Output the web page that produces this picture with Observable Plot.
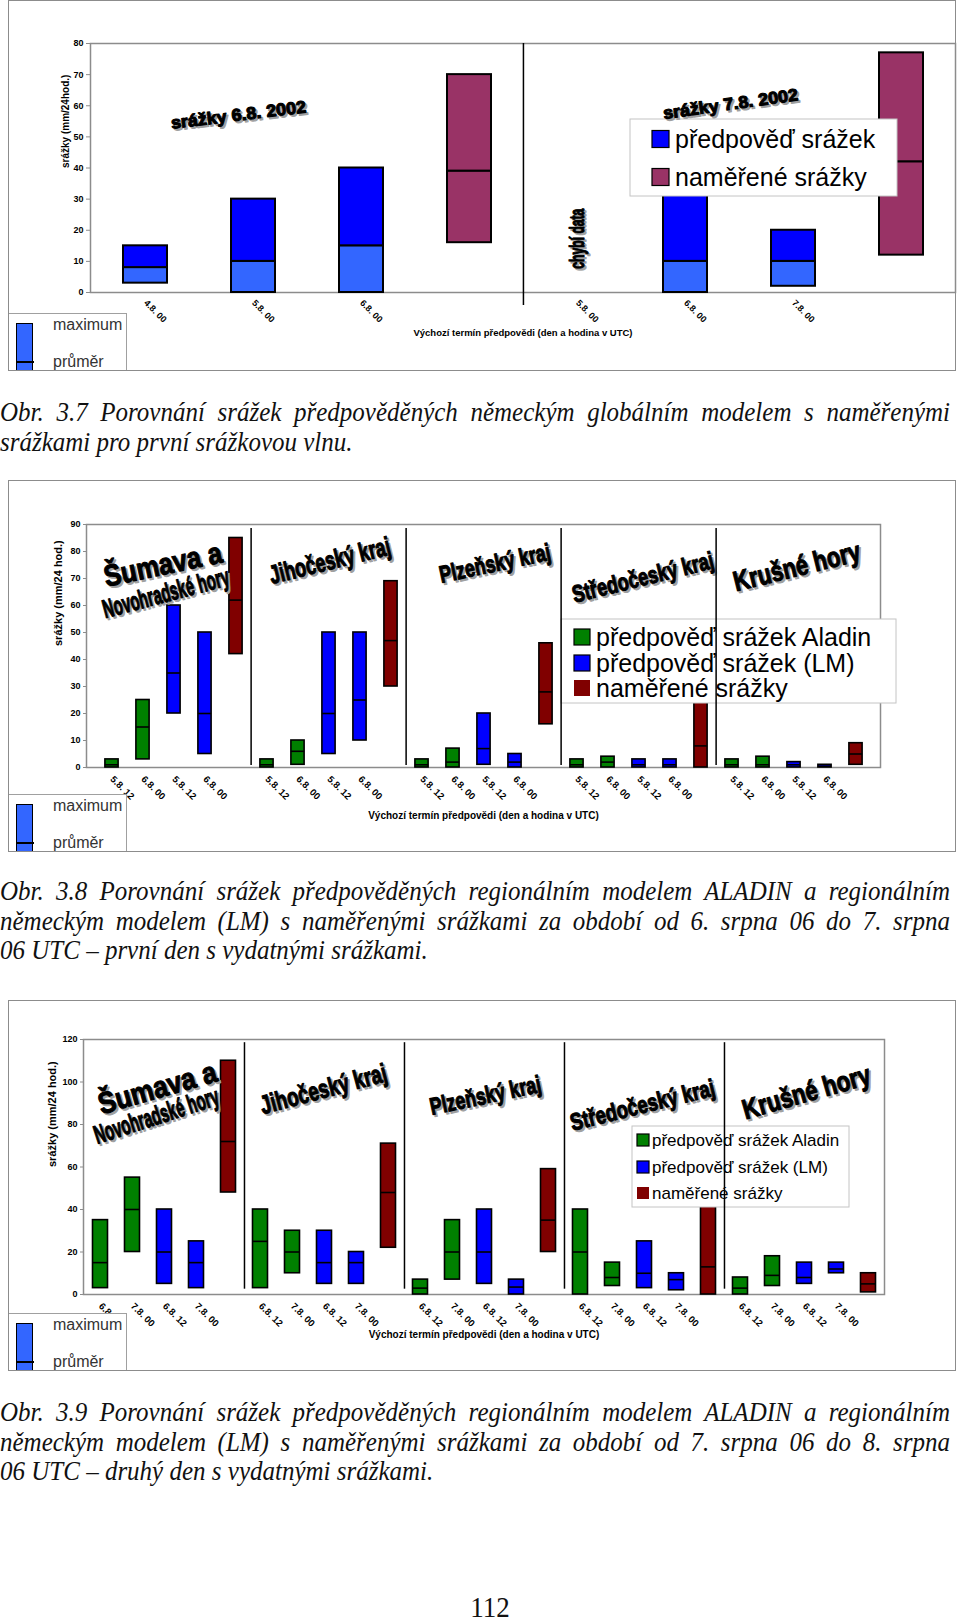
<!DOCTYPE html>
<html>
<head>
<meta charset="utf-8">
<script src="https://cdn.jsdelivr.net/npm/d3@7"></script>
<script src="https://cdn.jsdelivr.net/npm/@observablehq/plot@0.6"></script>
<style>
  html, body { margin: 0; padding: 0; background: #fff; }
  body { width: 960px; height: 1621px; position: relative; overflow: hidden; font-family: "Liberation Sans", Arial, sans-serif; }
  .wrap { position: absolute; left: 8px; width: 948px; background: #fff; }
  .wrap svg { position: absolute; left: 0; top: 0; }
  .border { position: absolute; left: 0; top: 0; right: 0; bottom: 0; border: 1.5px solid #8c8c8c; pointer-events: none; }
  .mm { position: absolute; left: 0; width: 119px; height: 58px; background: #fff; border-top: 1px solid #a0a0a0; border-right: 1px solid #a0a0a0; border-left: 1.5px solid #8c8c8c; overflow: hidden; box-sizing: border-box; }
  .mm .bar { position: absolute; left: 7px; top: 9px; width: 15px; height: 70px; background: #3366FF; border: 1.5px solid #000; }
  .mm .line { position: absolute; left: 7px; top: 47px; width: 18px; height: 2px; background: #000; }
  .mm .t { position: absolute; left: 44px; font-size: 16px; color: #333; line-height: 20px; }
  .cap { position: absolute; left: 0; width: 950px; font-family: "Liberation Serif", "Times New Roman", serif; font-style: italic; font-size: 25px; color: #111; }
  .cap div { height: 29.5px; line-height: 29.5px; white-space: nowrap; text-align: justify; text-align-last: justify; transform: scaleY(1.1); }
  .cap div.last { text-align-last: left; }
  .page { position: absolute; left: 0; width: 980px; top: 1592px; text-align: center; font-family: "Liberation Serif", "Times New Roman", serif; font-size: 27px; color: #111; transform: scaleY(1.08); }
</style>
</head>
<body>
<script>
// ---------------- DATA ----------------
// Figure 3.7 (global model): forecast start terms, minimum / mean (průměr) / maximum in mm/24 h
const c1Labels = ["4.8. 00", "5.8. 00", "6.8. 00", "", "5.8. 00", "6.8. 00", "7.8. 00", ""];
const c1Kind   = ["forecast", "forecast", "forecast", "measured", "missing", "forecast", "forecast", "measured"];
const c1Min    = [3, 0, 0, 16, null, 0, 2, 12];
const c1Mean   = [8, 10, 15, 39, null, 10, 10, 42];
const c1Max    = [15, 30, 40, 70, null, 45, 20, 77];

// Figure 3.8 (6.8. 06 UTC - 7.8. 06 UTC)
const regions   = ["Šumava a Novohradské hory", "Jihočeský kraj", "Plzeňský kraj", "Středočeský kraj", "Krušné hory"];
const bandKinds = ["Aladin", "Aladin", "LM", "LM", "measured"];
const c2Terms   = ["5.8. 12", "6.8. 00", "5.8. 12", "6.8. 00", ""];
const c2Min  = [0, 3, 20, 5, 42,   0, 1, 5, 10, 30,   0, 0, 1, 0, 16,   0, 0, 0, 0, 0,    0, 0, 0, 0, 1];
const c2Mean = [1, 15, 35, 20, 62, 1, 6, 20, 25, 47,  1, 2, 7, 2, 28,   1, 2, 1, 1, 8,    1, 1, 1, 0.5, 5];
const c2Max  = [3, 25, 60, 50, 85, 3, 10, 50, 50, 69, 3, 7, 20, 5, 46,  3, 4, 3, 3, 30,   3, 4, 2, 1, 9];

// Figure 3.9 (7.8. 06 UTC - 8.8. 06 UTC)
const c3Terms = ["6.8. 12", "7.8. 00", "6.8. 12", "7.8. 00", ""];
const c3Min  = [3, 20, 5, 3, 48,    3, 10, 5, 5, 22,   0, 7, 5, 0, 20,   0, 4, 3, 2, 0,     0, 4, 5, 10, 1];
const c3Mean = [15, 40, 20, 15, 72, 25, 20, 15, 15, 48, 3, 20, 20, 3.5, 35, 20, 8, 10, 7, 13, 3, 9, 8, 12, 5];
const c3Max  = [35, 55, 40, 25, 110, 40, 30, 30, 20, 71, 7, 35, 40, 7, 59, 40, 15, 25, 10, 45, 8, 18, 15, 15, 10];

// ---------------- STYLE ----------------
const C1_LOW = "#3366FF", C1_HIGH = "#0000FF", C1_MEAS = "#993366";
const KIND_COLOR = {Aladin: "#008000", LM: "#0000FF", measured: "#800000"};
const FONT = "'Liberation Sans', Arial, sans-serif";
const ART = "'Liberation Sans', Arial, sans-serif";

function plotStyle() {
  return {fontFamily: FONT, background: "transparent", color: "black", overflow: "visible"};
}

function legendMark(items, box) {
  return () => {
    const g = d3.create("svg:g").attr("text-anchor", "start");
    g.append("rect").attr("x", box.x).attr("y", box.y).attr("width", box.w).attr("height", box.h)
      .attr("fill", "white").attr("stroke", "#c4c4c4");
    items.forEach((it, k) => {
      const cy = box.y + box.rows[k];
      g.append("rect").attr("x", box.x + box.sx).attr("y", cy - box.s / 2).attr("width", box.s).attr("height", box.s)
        .attr("fill", it.color).attr("stroke", it.outline ? "black" : "none").attr("stroke-width", 1.2);
      g.append("text").attr("x", box.x + box.tx).attr("y", cy).attr("dy", "0.36em").attr("text-anchor", "start")
        .attr("font-size", box.fs).attr("font-family", FONT).attr("fill", "black").text(it.label);
    });
    return g.node();
  };
}

function artMarks(list) {
  const marks = [];
  for (const a of list) {
    const common = {x: () => a.band, y: () => a.v, text: () => a.text, rotate: a.rot, fontSize: a.size,
      fontWeight: "bold", fontFamily: ART, textAnchor: "middle", strokeWidth: 1.1};
    marks.push(Plot.text([a], {...common, fill: "#a0a0a0", stroke: "#a0a0a0", dx: a.dx + 2, dy: 2}));
    marks.push(Plot.text([a], {...common, fill: "black", stroke: "black", dx: a.dx}));
  }
  return marks;
}

function fitTexts(svg, list) {
  const w = {};
  for (const a of list) w[a.text] = a.width;
  d3.select(svg).selectAll("text").each(function () {
    const t = this.textContent;
    if (w[t]) { this.setAttribute("textLength", w[t]); this.setAttribute("lengthAdjust", "spacingAndGlyphs"); }
  });
}

function addChart(top, height, svg) {
  const wrap = document.createElement("div");
  wrap.className = "wrap";
  wrap.style.top = top + "px";
  wrap.style.height = height + "px";
  wrap.appendChild(svg);
  const mm = document.createElement("div");
  mm.className = "mm";
  mm.style.top = (height - 58) + "px";
  mm.innerHTML = '<div class="bar"></div><div class="line"></div><div class="t" style="top:1px">maximum</div><div class="t" style="top:38px">průměr</div>';
  wrap.appendChild(mm);
  const b = document.createElement("div");
  b.className = "border";
  wrap.appendChild(b);
  document.body.appendChild(wrap);
}

function addCaption(top, lines) {
  const c = document.createElement("div");
  c.className = "cap";
  c.style.top = top + "px";
  lines.forEach((l, i) => {
    const d = document.createElement("div");
    d.textContent = l;
    if (i === lines.length - 1) d.className = "last";
    c.appendChild(d);
  });
  document.body.appendChild(c);
}

const AXIS_TITLE = "Výchozí termín předpovědi (den a hodina v UTC)";

// ---------------- CHART 1 ----------------
{
  const rows = c1Labels.map((l, i) => ({i, kind: c1Kind[i], min: c1Min[i], mean: c1Mean[i], max: c1Max[i]}));
  const valid = rows.filter(d => d.min != null);
  const ml = 82, mr = 1, W = 948, H = 371;
  const bw = (W - ml - mr) / rows.length;
  const art = [
    {text: "srážky 6.8. 2002", band: 1, v: 57, dx: -15, rot: -7, size: 17, width: 136},
    {text: "srážky 7.8. 2002", band: 5, v: 60.5, dx: 45, rot: -8, size: 17, width: 136},
    {text: "chybí data", band: 4, v: 17.3, dx: 0, rot: -90, size: 21, width: 60}
  ];
  const svg = Plot.plot({
    width: W, height: H, marginLeft: ml, marginRight: mr, marginTop: 43, marginBottom: 79,
    style: plotStyle(),
    x: {type: "band", domain: d3.range(rows.length), padding: 0, axis: null},
    y: {domain: [0, 80], axis: null},
    color: {type: "identity"},
    marks: [
      Plot.frame({stroke: "#8c8c8c", strokeWidth: 1.5}),
      Plot.barY(valid, {x: "i", y1: "min", y2: "mean", fill: d => d.kind === "measured" ? C1_MEAS : C1_LOW,
        stroke: "black", strokeWidth: 2, insetLeft: 32, insetRight: 32}),
      Plot.barY(valid, {x: "i", y1: "mean", y2: "max", fill: d => d.kind === "measured" ? C1_MEAS : C1_HIGH,
        stroke: "black", strokeWidth: 2, insetLeft: 32, insetRight: 32}),
      Plot.ruleX([4], {x: d => d, y1: -4.2, y2: 80, stroke: "black", strokeWidth: 1.5, dx: -bw / 2}),
      legendMark([
        {label: "předpověď srážek", color: C1_HIGH, outline: true},
        {label: "naměřené srážky", color: C1_MEAS, outline: true}
      ], {x: 622, y: 119, w: 267, h: 77, rows: [20, 58], sx: 22, s: 17, tx: 45, fs: 25}),
      ...artMarks(art),
      Plot.axisY({ticks: d3.range(0, 81, 10), tickSize: 4, tickPadding: 3, fontWeight: "bold", fontSize: 9, stroke: "#8c8c8c", label: null}),
      Plot.axisX({tickSize: 0, tickPadding: 9, tickRotate: 45, tickFormat: i => c1Labels[i], fontWeight: "bold", fontSize: 9, label: null}),
      Plot.text(["srážky (mm/24hod.)"], {text: d => d, frameAnchor: "left", rotate: -90, dx: -25, fontWeight: "bold", fontSize: 10}),
      Plot.text([AXIS_TITLE], {text: d => d, frameAnchor: "bottom", dy: 43, fontWeight: "bold", fontSize: 9.5})
    ]
  });
  fitTexts(svg, art);
  addChart(0, H, svg);
}

// ---------------- CHARTS 2 & 3 ----------------
function regionalChart(top, H, terms, mins, means, maxs, opt) {
  const n = mins.length;
  const rows = d3.range(n).map(i => ({i, kind: bandKinds[i % 5], region: regions[Math.floor(i / 5)], min: mins[i], mean: means[i], max: maxs[i]}));
  const W = 948;
  const bw = (W - opt.ml - opt.mr) / n;
  const svg = Plot.plot({
    width: W, height: H, marginLeft: opt.ml, marginRight: opt.mr, marginTop: opt.mt, marginBottom: opt.mb,
    style: plotStyle(),
    x: {type: "band", domain: d3.range(n), padding: 0, axis: null},
    y: {domain: [0, opt.ymax], axis: null},
    color: {type: "identity"},
    marks: [
      Plot.frame({stroke: "#8c8c8c", strokeWidth: 1.5}),
      Plot.barY(rows, {x: "i", y1: "min", y2: "max", fill: d => KIND_COLOR[d.kind], stroke: "black", strokeWidth: 1.6,
        insetLeft: opt.inset, insetRight: opt.inset}),
      Plot.tickY(rows, {x: "i", y: "mean", stroke: "black", strokeWidth: 1.6, insetLeft: opt.inset, insetRight: opt.inset}),
      ...artMarks(opt.art),
      legendMark([
        {label: "předpověď srážek Aladin", color: KIND_COLOR.Aladin, outline: true},
        {label: "předpověď srážek (LM)", color: KIND_COLOR.LM, outline: true},
        {label: "naměřené srážky", color: KIND_COLOR.measured, outline: false}
      ], opt.legend),
      Plot.ruleX([5, 10, 15, 20], {x: d => d, y1: opt.divLo, y2: opt.divHi, stroke: "black", strokeWidth: 1.5, dx: -bw / 2}),
      Plot.axisY({ticks: d3.range(0, opt.ymax + 1, opt.step), tickSize: 3, tickPadding: 3, fontWeight: "bold", fontSize: 9, stroke: "#8c8c8c", label: null}),
      Plot.axisX({tickSize: 0, tickPadding: 10, tickRotate: 45, tickFormat: i => terms[i % 5], fontWeight: "bold", fontSize: 9.5, label: null}),
      Plot.text([opt.ylabel], {text: d => d, frameAnchor: "left", rotate: -90, dx: opt.ylabelDx, fontWeight: "bold", fontSize: 11}),
      Plot.text([AXIS_TITLE], {text: d => d, frameAnchor: "bottom", dy: opt.titleDy, fontWeight: "bold", fontSize: 10})
    ]
  });
  fitTexts(svg, opt.art);
  addChart(top, H, svg);
}

regionalChart(480, 372, c2Terms, c2Min, c2Mean, c2Max, {
  ml: 78, mr: 76, mt: 44, mb: 85, ymax: 90, step: 10, inset: 8.9, divLo: 0.7, divHi: 88.5,
  ylabel: "srážky (mm/24 hod.)", ylabelDx: -28, titleDy: 51,
  legend: {x: 553, y: 139, w: 335, h: 84, rows: [18, 44, 69], sx: 13, s: 16, tx: 35, fs: 25},
  art: [
    {text: "Šumava a", band: 2, v: 75, dx: -11, rot: -12, size: 30, width: 120},
    {text: "Novohradské hory", band: 2, v: 64.5, dx: -8, rot: -15, size: 26, width: 130},
    {text: "Jihočeský kraj", band: 7, v: 76.5, dx: 1, rot: -14, size: 26, width: 124},
    {text: "Plzeňský kraj", band: 12, v: 75.5, dx: 11, rot: -12, size: 24, width: 113},
    {text: "Středočeský kraj", band: 17, v: 70.3, dx: 4, rot: -14, size: 24, width: 145},
    {text: "Krušné hory", band: 22, v: 74.3, dx: 3, rot: -14, size: 28, width: 130}
  ]
});

regionalChart(1000, 371, c3Terms, c3Min, c3Mean, c3Max, {
  ml: 75, mr: 72, mt: 39, mb: 77, ymax: 120, step: 20, inset: 8.5, divLo: 2.5, divHi: 118.5,
  ylabel: "srážky (mm/24 hod.)", ylabelDx: -31, titleDy: 43,
  legend: {x: 624, y: 126, w: 217, h: 81, rows: [14, 41, 67], sx: 5, s: 12, tx: 20, fs: 17},
  art: [
    {text: "Šumava a", band: 2, v: 97, dx: -7, rot: -16, size: 30, width: 122},
    {text: "Novohradské hory", band: 2, v: 84, dx: -8, rot: -18, size: 26, width: 130},
    {text: "Jihočeský kraj", band: 7, v: 96.5, dx: -1, rot: -15, size: 26, width: 130},
    {text: "Plzeňský kraj", band: 12, v: 93.5, dx: 1, rot: -12, size: 24, width: 113},
    {text: "Středočeský kraj", band: 17, v: 89, dx: -2, rot: -14, size: 24, width: 148},
    {text: "Krušné hory", band: 22, v: 95, dx: 2, rot: -16, size: 28, width: 132}
  ]
});

// ---------------- CAPTIONS ----------------
addCaption(397, [
  "Obr. 3.7 Porovnání srážek předpověděných německým globálním modelem s naměřenými",
  "srážkami pro první srážkovou vlnu."
]);
addCaption(876, [
  "Obr. 3.8 Porovnání srážek předpověděných regionálním modelem ALADIN a regionálním",
  "německým modelem (LM) s naměřenými srážkami za období od 6. srpna 06 do 7. srpna",
  "06 UTC  –  první den s vydatnými srážkami."
]);
addCaption(1397, [
  "Obr. 3.9 Porovnání srážek předpověděných regionálním modelem ALADIN a regionálním",
  "německým modelem (LM) s naměřenými srážkami za období od 7. srpna 06 do 8. srpna",
  "06 UTC – druhý den s vydatnými srážkami."
]);
const pg = document.createElement("div");
pg.className = "page";
pg.textContent = "112";
document.body.appendChild(pg);
</script>
</body>
</html>
